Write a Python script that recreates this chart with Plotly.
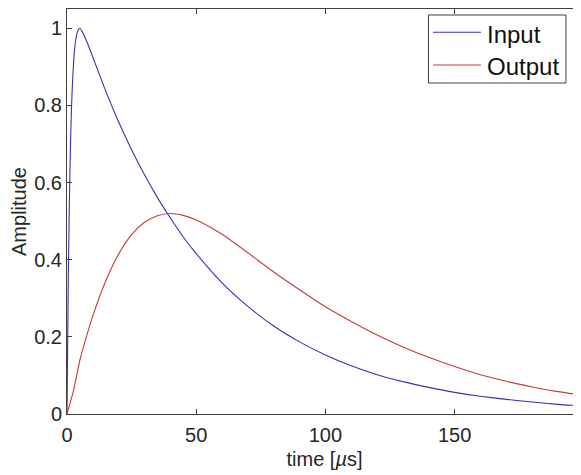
import plotly.graph_objects as go

# Readings from the reference chart (time in microseconds)
t_input = [0, 0.5, 1, 1.5, 2, 3, 4, 5, 6, 8, 10, 15, 20, 25, 30, 35, 40, 45, 50,
           60, 70, 80, 90, 100, 110, 120, 130, 140, 150, 160, 170, 180, 190, 200]
amp_input = [0, 0.35, 0.58, 0.74, 0.84, 0.95, 0.99, 1.0, 0.99, 0.96, 0.925, 0.837,
             0.757, 0.685, 0.62, 0.561, 0.508, 0.459, 0.416, 0.34, 0.279, 0.228,
             0.187, 0.153, 0.125, 0.102, 0.084, 0.069, 0.056, 0.046, 0.038, 0.031,
             0.025, 0.021]

t_output = [0, 2.5, 5, 7.5, 10, 15, 20, 25, 30, 35, 40, 45, 50, 60, 70, 80, 90,
            100, 110, 120, 130, 140, 150, 160, 170, 180, 190, 200]
amp_output = [0, 0.06, 0.14, 0.2, 0.255, 0.345, 0.415, 0.465, 0.497, 0.514, 0.52,
              0.515, 0.503, 0.466, 0.418, 0.368, 0.322, 0.278, 0.24, 0.205, 0.174,
              0.147, 0.123, 0.102, 0.085, 0.07, 0.058, 0.048]

series_names = ["Input", "Output"]
series_colors = ["#3434b0", "#c43c3c"]
x_ticks = [0, 50, 100, 150]
y_ticks = [0, 0.2, 0.4, 0.6, 0.8, 1]

FONT = "Liberation Sans, Arial, sans-serif"
AX = "#404040"
TXT = "#262626"

fig = go.Figure()
fig.add_trace(go.Scatter(x=t_input, y=amp_input, mode="lines", name=series_names[0],
                         line=dict(color=series_colors[0], width=1.1, shape="spline", smoothing=0.6)))
fig.add_trace(go.Scatter(x=t_output, y=amp_output, mode="lines", name=series_names[1],
                         line=dict(color=series_colors[1], width=1.1, shape="spline", smoothing=0.6)))

axis_common = dict(showgrid=False, zeroline=False, showline=True, linecolor=AX,
                   linewidth=1, mirror="allticks", ticks="inside", ticklen=5,
                   tickcolor=AX, automargin=False,
                   tickfont=dict(family=FONT, size=20, color=TXT))

# MATLAB-style boxed legend (drawn in paper coordinates)
lg_x0, lg_x1, lg_y0, lg_y1 = 0.7019, 0.9689, 0.8173, 0.9852
lg_line_x0, lg_line_x1, lg_text_x = 0.7107, 0.8039, 0.8126
lg_line_y = [0.9425, 0.8617]
lg_text_y = [0.9373, 0.8568]

shapes = [dict(type="rect", xref="paper", yref="paper", x0=lg_x0, x1=lg_x1, y0=lg_y0, y1=lg_y1,
               line=dict(color=AX, width=1), fillcolor="white", layer="above")]
annotations = []
for name, col, ly, ty in zip(series_names, series_colors, lg_line_y, lg_text_y):
    shapes.append(dict(type="line", xref="paper", yref="paper", x0=lg_line_x0, x1=lg_line_x1,
                       y0=ly, y1=ly, line=dict(color=col, width=1.1), layer="above"))
    annotations.append(dict(text=name, xref="paper", yref="paper", x=lg_text_x, y=ty,
                            xanchor="left", yanchor="middle", showarrow=False,
                            font=dict(family=FONT, size=24, color="#111111")))

fig.update_layout(
    width=574, height=467,
    margin=dict(l=59, r=0, t=1, b=61),
    paper_bgcolor="white", plot_bgcolor="white",
    font=dict(family=FONT, color=TXT),
    showlegend=False,
    shapes=shapes,
    annotations=annotations,
    xaxis=dict(range=[0, 199.3], tickvals=x_ticks, ticklabelstandoff=3,
               title=dict(text="time [<i>µ</i>s]", font=dict(family=FONT, size=20, color=TXT), standoff=6),
               **axis_common),
    yaxis=dict(range=[0, 1.05], tickvals=y_ticks, ticklabelstandoff=0,
               title=dict(text="Amplitude", font=dict(family=FONT, size=20, color=TXT), standoff=6),
               **axis_common),
)

fig.write_html("out.html")
